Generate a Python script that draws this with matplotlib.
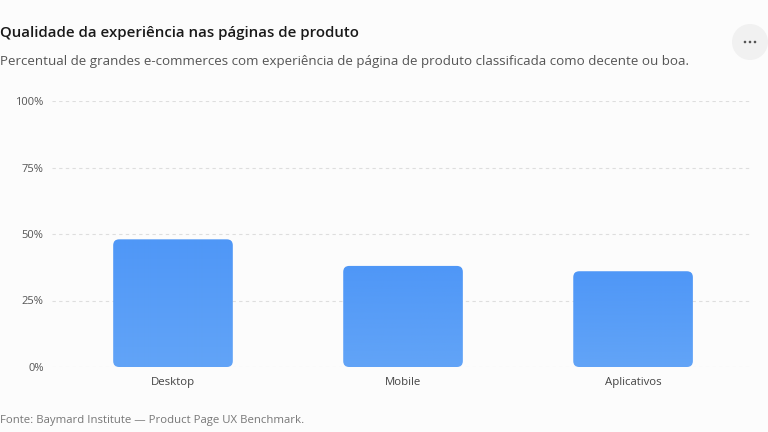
import numpy as np
import matplotlib.pyplot as plt
from matplotlib.patches import FancyBboxPatch, Circle
from matplotlib.colors import LinearSegmentedColormap

plt.rcParams['font.family'] = ['Open Sans', 'DejaVu Sans']

# dados
categorias = ["Desktop", "Mobile", "Aplicativos"]
valores = [48, 38, 36]
ticks_y = [0, 25, 50, 75, 100]
rotulos_y = ["0%", "25%", "50%", "75%", "100%"]

titulo = "Qualidade da experiência nas páginas de produto"
subtitulo = ("Percentual de grandes e-commerces com experiência de página de "
             "produto classificada como decente ou boa.")
fonte = "Fonte: Baymard Institute — Product Page UX Benchmark."

W, H = 768, 432
fundo = "#fcfcfc"

fig = plt.figure(figsize=(W / 100, H / 100), dpi=100, facecolor=fundo)
ax = fig.add_axes([52 / W, 65 / H, 700 / W, 266 / H], facecolor=fundo)

x = np.arange(len(categorias))
largura = 0.52
ax.set_xlim(-0.526, 2.517)
ax.set_ylim(0, 100)

for s in ax.spines.values():
    s.set_visible(False)

ax.set_yticks(ticks_y)
ax.set_yticklabels(rotulos_y)
ax.set_xticks(x)
ax.set_xticklabels(categorias)
ax.tick_params(axis="y", length=0, pad=6, labelsize=8, labelcolor="#555555")
ax.tick_params(axis="x", length=0, pad=7, labelsize=8.2, labelcolor="#444444")
ax.grid(axis="y", color="#dedede", linestyle=(0, (3, 3)), linewidth=0.8)
ax.set_axisbelow(True)

# barras arredondadas com gradiente
px_x = (2.517 + 0.526) / 700
px_y = 100 / 266
raio = 6
cmap = LinearSegmentedColormap.from_list("azul", ["#62a4f7", "#4f97f7"])
grad = np.linspace(0, 1, 256).reshape(-1, 1)

for xi, v in zip(x, valores):
    caixa = FancyBboxPatch((xi - largura / 2, 0), largura, v,
                           boxstyle=f"round,pad=0,rounding_size={raio * px_x}",
                           mutation_aspect=px_y / px_x,
                           facecolor="none", edgecolor="none", zorder=3)
    ax.add_patch(caixa)
    im = ax.imshow(grad, cmap=cmap, origin="lower", aspect="auto",
                   extent=(xi - largura / 2, xi + largura / 2, 0, v), zorder=3)
    im.set_clip_path(caixa)

ax.set_xlim(-0.526, 2.517)
ax.set_ylim(0, 100)

# textos
fig.text(0 / W, 1 - 33 / H, titulo, fontsize=10.8, fontweight="semibold",
         color="#1a1a1a", va="center", ha="left")
fig.text(0 / W, 1 - 62 / H, subtitulo, fontsize=9.6, color="#555555",
         va="center", ha="left")
fig.text(0 / W, 1 - 421 / H, fonte, fontsize=8.2, color="#777777",
         va="center", ha="left")

# botão de menu
bot = fig.add_axes([0, 0, 1, 1], facecolor="none")
bot.set_xlim(0, W)
bot.set_ylim(H, 0)
bot.axis("off")
bot.add_patch(Circle((750, 42), 18, facecolor="#f1f1f1", edgecolor="none"))
for dx in (-5, 0, 5):
    bot.add_patch(Circle((750 + dx, 42), 1.3, facecolor="#555555", edgecolor="none"))

fig.savefig("out.png", dpi=100, facecolor=fundo)
